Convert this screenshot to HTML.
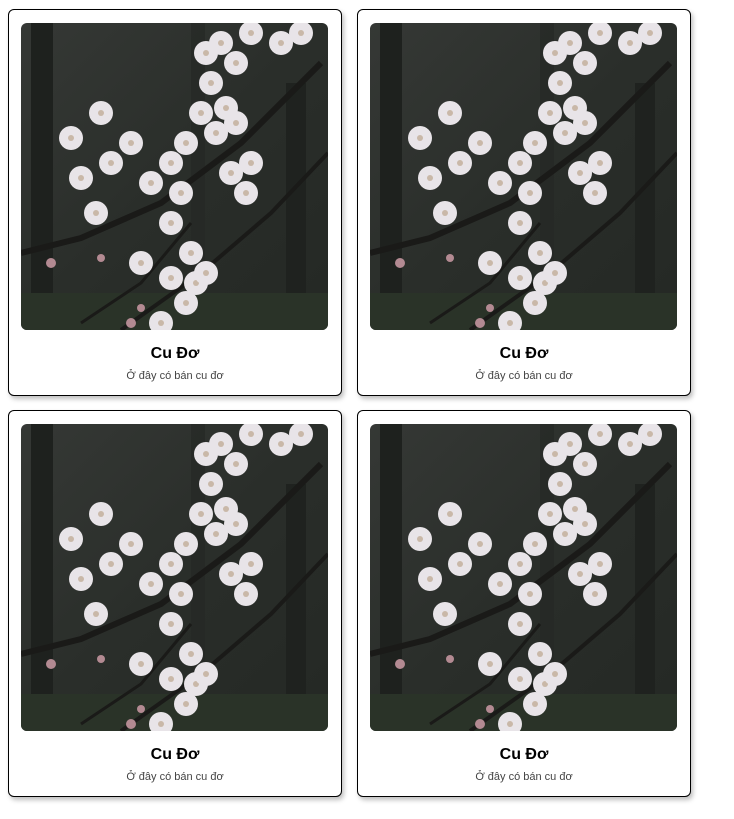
<!DOCTYPE html>
<html><head><meta charset="utf-8">
<style>
body{margin:0;background:#fff;width:734px;height:819px;position:relative;font-family:"Liberation Sans",Arial,sans-serif;}
.card{position:absolute;width:334px;height:387px;border:1px solid #000;border-radius:6px;box-sizing:border-box;background:#fff;box-shadow:2px 3px 5px rgba(0,0,0,0.25);}
.photo{position:absolute;left:12px;top:13px;width:307px;height:307px;border-radius:6px;overflow:hidden;}
.title{position:absolute;left:0;right:0;top:335px;text-align:center;font-weight:bold;font-size:16px;color:#000;}
.sub{position:absolute;left:0;right:0;top:360px;text-align:center;font-size:11px;color:#444;}
</style></head><body>
<svg width="0" height="0" style="position:absolute">
<defs>
<linearGradient id="bg" x1="0" y1="0" x2="1" y2="1">
<stop offset="0" stop-color="#353835"/><stop offset="0.5" stop-color="#2a2e2a"/><stop offset="1" stop-color="#242824"/>
</linearGradient>
<g id="blossom"><circle r="12" fill="#e8e4e8"/><circle r="3" fill="#c9b8a8"/></g>
<symbol id="pic" viewBox="0 0 307 307">
<rect width="307" height="307" fill="url(#bg)"/>
<rect x="10" y="0" width="22" height="307" fill="#1e211e"/>
<rect x="170" y="0" width="14" height="307" fill="#252825" opacity="0.7"/>
<rect x="265" y="60" width="20" height="247" fill="#1f221f"/>
<rect x="0" y="270" width="307" height="37" fill="#2a3328"/>
<path d="M0 230 L60 215 L140 180 L220 120 L300 40" stroke="#1a1a18" stroke-width="6" fill="none"/>
<path d="M100 307 L180 250 L250 190 L307 130" stroke="#1a1a18" stroke-width="4" fill="none"/>
<path d="M60 300 L120 260 L170 200" stroke="#1a1a18" stroke-width="3" fill="none"/>
<g>
<use href="#blossom" x="50" y="115"/><use href="#blossom" x="80" y="90"/><use href="#blossom" x="60" y="155"/>
<use href="#blossom" x="90" y="140"/><use href="#blossom" x="75" y="190"/><use href="#blossom" x="110" y="120"/>
<use href="#blossom" x="150" y="140"/><use href="#blossom" x="165" y="120"/><use href="#blossom" x="180" y="90"/>
<use href="#blossom" x="190" y="60"/><use href="#blossom" x="185" y="30"/><use href="#blossom" x="215" y="40"/>
<use href="#blossom" x="230" y="10"/><use href="#blossom" x="260" y="20"/><use href="#blossom" x="280" y="10"/>
<use href="#blossom" x="195" y="110"/><use href="#blossom" x="210" y="150"/><use href="#blossom" x="225" y="170"/>
<use href="#blossom" x="230" y="140"/><use href="#blossom" x="150" y="200"/><use href="#blossom" x="170" y="230"/>
<use href="#blossom" x="150" y="255"/><use href="#blossom" x="175" y="260"/><use href="#blossom" x="120" y="240"/>
<use href="#blossom" x="160" y="170"/><use href="#blossom" x="130" y="160"/><use href="#blossom" x="205" y="85"/>
<use href="#blossom" x="185" y="250"/><use href="#blossom" x="140" y="300"/>
<use href="#blossom" x="200" y="20"/><use href="#blossom" x="215" y="100"/><use href="#blossom" x="165" y="280"/>
</g>
<g fill="#b38a92"><circle cx="30" cy="240" r="5"/><circle cx="110" cy="300" r="5"/><circle cx="120" cy="285" r="4"/><circle cx="80" cy="235" r="4"/></g>
</symbol>
</defs>
</svg>

<div class="card" style="left:8px;top:9px">
<svg class="photo"><use href="#pic" width="307" height="307"/></svg>
<div class="title">Cu Đơ</div>
<div class="sub">Ở đây có bán cu đơ</div>
</div>
<div class="card" style="left:357px;top:9px">
<svg class="photo"><use href="#pic" width="307" height="307"/></svg>
<div class="title">Cu Đơ</div>
<div class="sub">Ở đây có bán cu đơ</div>
</div>
<div class="card" style="left:8px;top:410px">
<svg class="photo"><use href="#pic" width="307" height="307"/></svg>
<div class="title">Cu Đơ</div>
<div class="sub">Ở đây có bán cu đơ</div>
</div>
<div class="card" style="left:357px;top:410px">
<svg class="photo"><use href="#pic" width="307" height="307"/></svg>
<div class="title">Cu Đơ</div>
<div class="sub">Ở đây có bán cu đơ</div>
</div>
</body></html>
